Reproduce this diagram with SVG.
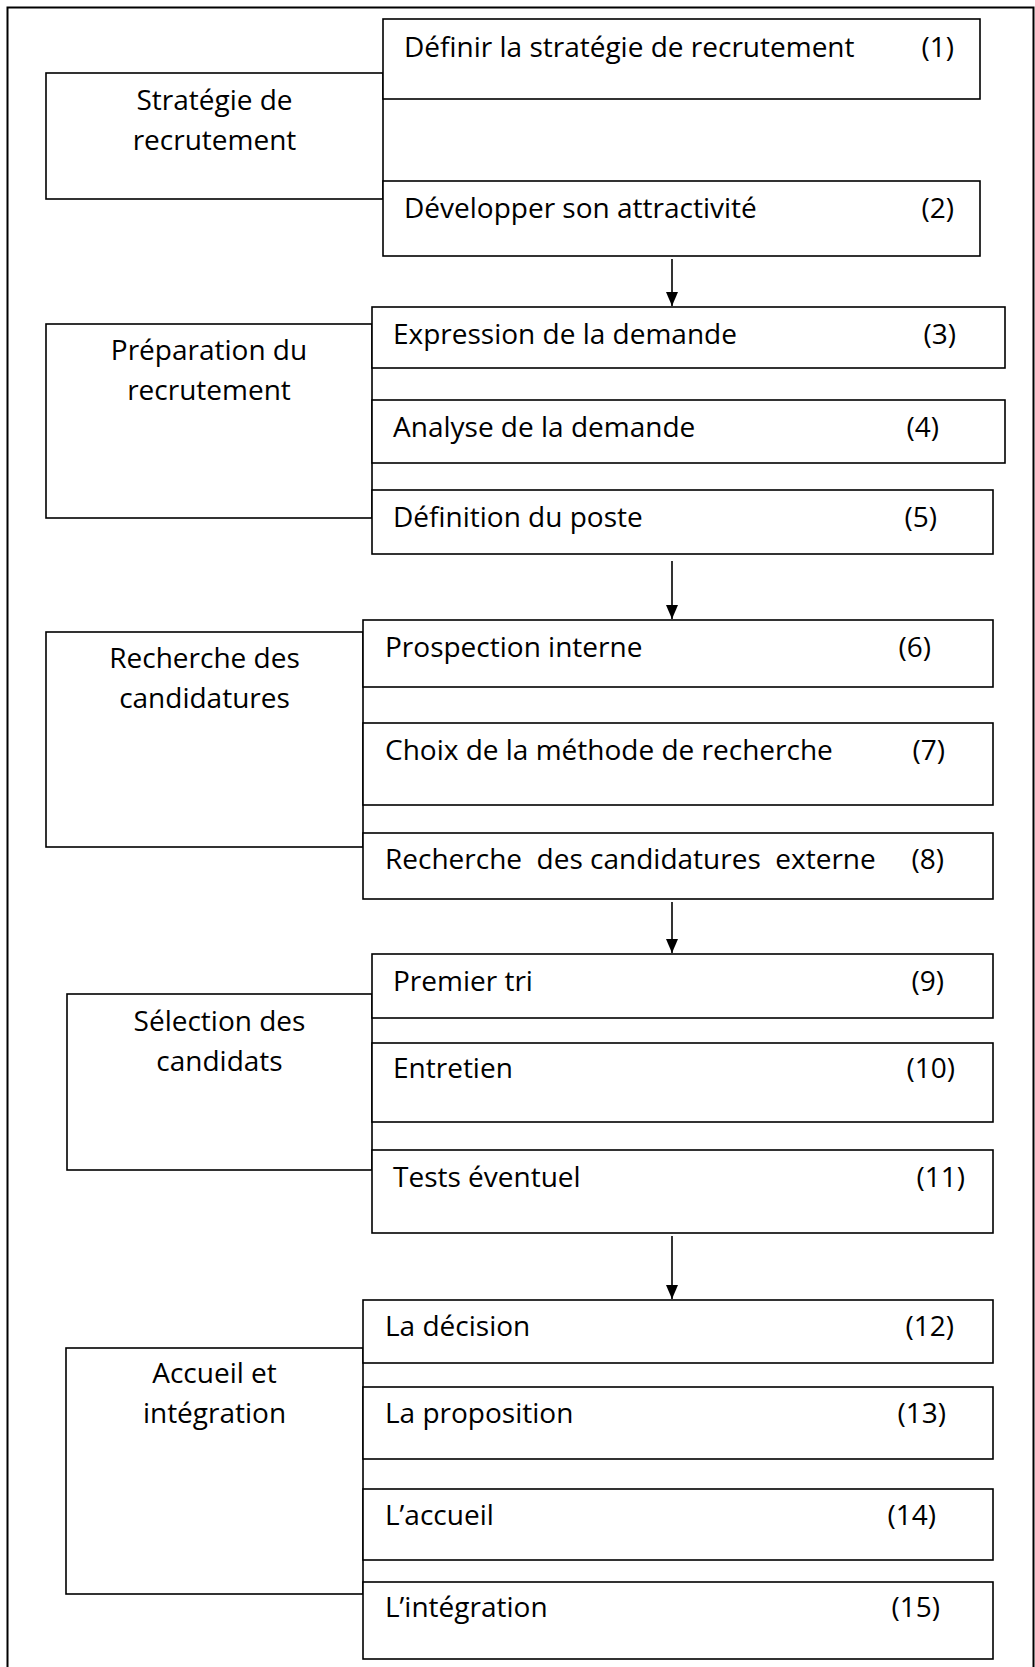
<svg xmlns="http://www.w3.org/2000/svg" width="1035" height="1667" viewBox="0 0 1035 1667">
<defs>
<style>
.b{fill:#fff;stroke:#000;stroke-width:1.6}
.t{font-family:"Open Sans","Noto Sans","DejaVu Sans",sans-serif;font-size:28px;fill:#000}
.c{text-anchor:middle}
.n{text-anchor:end}
.ln{stroke:#000;stroke-width:1.6;fill:none}
</style>
<marker id="ah" markerWidth="14" markerHeight="12" refX="14" refY="6" orient="auto" markerUnits="userSpaceOnUse" viewBox="0 0 14 12">
<path d="M0,0 L14,6 L0,12 Z" fill="#000"/>
</marker>
</defs>
<rect width="1035" height="1667" fill="#fff"/>
<path d="M7.5,1670 V7.5 H1033.5 V1670" fill="none" stroke="#000" stroke-width="2"/>

<g id="phase1">
<rect class="b" x="46" y="73" width="337" height="126"/>
<text class="t c" x="214.5" y="110">Stratégie de</text>
<text class="t c" x="214.5" y="150">recrutement</text>
</g>
<g id="step1">
<rect class="b" x="383" y="19" width="597" height="80"/>
<text class="t" x="404" y="57">Définir la stratégie de recrutement</text>
<text class="t n" x="954" y="57">(1)</text>
</g>
<g id="step2">
<rect class="b" x="383" y="181" width="597" height="75"/>
<text class="t" x="404" y="218">Développer son attractivité</text>
<text class="t n" x="954" y="218">(2)</text>
</g>

<g id="phase2">
<rect class="b" x="46" y="324" width="326" height="194"/>
<text class="t c" x="209" y="360">Préparation du</text>
<text class="t c" x="209" y="400">recrutement</text>
</g>
<g id="step3">
<rect class="b" x="372" y="307" width="633" height="61"/>
<text class="t" x="393" y="344">Expression de la demande</text>
<text class="t n" x="956" y="344">(3)</text>
</g>
<g id="step4">
<rect class="b" x="372" y="400" width="633" height="63"/>
<text class="t" x="393" y="437">Analyse de la demande</text>
<text class="t n" x="939" y="437">(4)</text>
</g>
<g id="step5">
<rect class="b" x="372" y="490" width="621" height="64"/>
<text class="t" x="393" y="527">Définition du poste</text>
<text class="t n" x="937" y="527">(5)</text>
</g>

<g id="phase3">
<rect class="b" x="46" y="632" width="317" height="215"/>
<text class="t c" x="204.5" y="668">Recherche des</text>
<text class="t c" x="204.5" y="708">candidatures</text>
</g>
<g id="step6">
<rect class="b" x="363" y="620" width="630" height="67"/>
<text class="t" x="385" y="657">Prospection interne</text>
<text class="t n" x="931" y="657">(6)</text>
</g>
<g id="step7">
<rect class="b" x="363" y="723" width="630" height="82"/>
<text class="t" x="385" y="760">Choix de la méthode de recherche</text>
<text class="t n" x="945" y="760">(7)</text>
</g>
<g id="step8">
<rect class="b" x="363" y="833" width="630" height="66"/>
<text class="t" x="385" y="869" xml:space="preserve">Recherche  des candidatures  externe</text>
<text class="t n" x="944" y="869">(8)</text>
</g>

<g id="phase4">
<rect class="b" x="67" y="994" width="305" height="176"/>
<text class="t c" x="219.5" y="1031">Sélection des</text>
<text class="t c" x="219.5" y="1071">candidats</text>
</g>
<g id="step9">
<rect class="b" x="372" y="954" width="621" height="64"/>
<text class="t" x="393" y="991">Premier tri</text>
<text class="t n" x="944" y="991">(9)</text>
</g>
<g id="step10">
<rect class="b" x="372" y="1043" width="621" height="79"/>
<text class="t" x="393" y="1078">Entretien</text>
<text class="t n" x="955" y="1078">(10)</text>
</g>
<g id="step11">
<rect class="b" x="372" y="1150" width="621" height="83"/>
<text class="t" x="393" y="1187">Tests éventuel</text>
<text class="t n" x="965" y="1187">(11)</text>
</g>

<g id="phase5">
<rect class="b" x="66" y="1348" width="297" height="246"/>
<text class="t c" x="214.5" y="1383">Accueil et</text>
<text class="t c" x="214.5" y="1423">intégration</text>
</g>
<g id="step12">
<rect class="b" x="363" y="1300" width="630" height="63"/>
<text class="t" x="385" y="1336">La décision</text>
<text class="t n" x="954" y="1336">(12)</text>
</g>
<g id="step13">
<rect class="b" x="363" y="1387" width="630" height="72"/>
<text class="t" x="385" y="1423">La proposition</text>
<text class="t n" x="946" y="1423">(13)</text>
</g>
<g id="step14">
<rect class="b" x="363" y="1489" width="630" height="71"/>
<text class="t" x="385" y="1525">L’accueil</text>
<text class="t n" x="936" y="1525">(14)</text>
</g>
<g id="step15">
<rect class="b" x="363" y="1582" width="630" height="77"/>
<text class="t" x="385" y="1617">L’intégration</text>
<text class="t n" x="940" y="1617">(15)</text>
</g>

<g id="connectors">
<line class="ln" x1="672" y1="259" x2="672" y2="306" marker-end="url(#ah)"/>
<line class="ln" x1="672" y1="561" x2="672" y2="619" marker-end="url(#ah)"/>
<line class="ln" x1="672" y1="902" x2="672" y2="953" marker-end="url(#ah)"/>
<line class="ln" x1="672" y1="1236" x2="672" y2="1299" marker-end="url(#ah)"/>
</g>
</svg>
